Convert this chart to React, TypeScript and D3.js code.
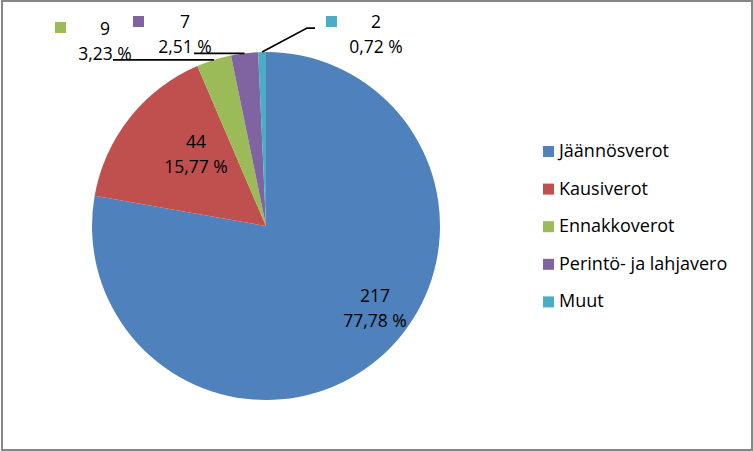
import React from 'react';
import * as d3 from 'd3';

const categories = ['Jäännösverot', 'Kausiverot', 'Ennakkoverot', 'Perintö- ja lahjavero', 'Muut'];
const values = [217, 44, 9, 7, 2];
const colors = ['#4F81BD', '#C0504D', '#9BBB59', '#8064A2', '#4BACC6'];

// label layout (positions only)
const labelLayout = [
  { kind: 'inside', x: 375, y: 302 },
  { kind: 'inside', x: 196, y: 148 },
  { kind: 'outside', x: 105, y: 35, keyX: 55, keyY: 22, lineTo: [[113, null]] },
  { kind: 'outside', x: 185, y: 28, keyX: 133, keyY: 16, lineTo: [[194, null]] },
  { kind: 'outside', x: 376, y: 28, keyX: 326, keyY: 16, lineTo: [[307, 28], [315, 28]] },
];

export default function App() {
  const W = 753, H = 451;
  const cx = 266, cy = 226, R = 174;
  const total = d3.sum(values);
  const pie = d3.pie<number>().sort(null).value((d) => d);
  const arcs = pie(values);
  const arc = d3.arc<d3.PieArcDatum<number>>().innerRadius(0).outerRadius(R);
  const pct = (v: number) => (v / total * 100).toFixed(2).replace('.', ',') + ' %';
  const font = "'Open Sans', sans-serif";
  const fs = 17.5;
  const lineGap = 25;

  return (
    <svg width={W} height={H} style={{ position: 'absolute', left: 0, top: 0, background: '#fff' }} fontFamily={font}>
      <rect x={0} y={0} width={W} height={H} fill="#fff" />
      <rect x={2} y={1} width={750} height={449} fill="none" stroke="#868686" strokeWidth={2} />
      <g transform={`translate(${cx},${cy})`}>
        {arcs.map((a, i) => (
          <path key={i} d={arc(a) as string} fill={colors[i]} />
        ))}
      </g>
      {arcs.map((a, i) => {
        const L: any = labelLayout[i];
        const mid = (a.startAngle + a.endAngle) / 2;
        const px = cx + R * Math.sin(mid);
        const py = cy - R * Math.cos(mid);
        if (L.kind === 'inside') {
          return (
            <g key={i} fontSize={fs} fill="#000" textAnchor="middle">
              <text x={L.x} y={L.y}>{values[i]}</text>
              <text x={L.x} y={L.y + lineGap}>{pct(values[i])}</text>
            </g>
          );
        }
        const pts: [number, number][] = [[px, py]];
        L.lineTo.forEach((p: any) => pts.push([p[0], p[1] == null ? py : p[1]]));
        const line = d3.line()(pts) as string;
        return (
          <g key={i}>
            <path d={line} fill="none" stroke="#000" strokeWidth={1.75} />
            <rect x={L.keyX} y={L.keyY} width={11} height={11} fill={colors[i]} />
            <text x={L.x} y={L.y} fontSize={fs} textAnchor="middle" fill="#000">{values[i]}</text>
            <text x={L.x} y={L.y + lineGap} fontSize={fs} textAnchor="middle" fill="#000">{pct(values[i])}</text>
          </g>
        );
      })}
      <g>
        {categories.map((c, i) => (
          <g key={c}>
            <rect x={543} y={146 + i * 37.6} width={11} height={11} fill={colors[i]} />
            <text x={559} y={157 + i * 37.6} fontSize={18} fill="#000">{c}</text>
          </g>
        ))}
      </g>
    </svg>
  );
}
